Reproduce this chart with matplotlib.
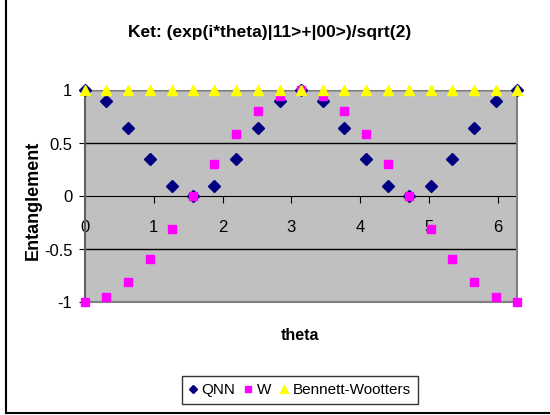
import matplotlib
matplotlib.use('Agg')
import matplotlib.pyplot as plt
from matplotlib.lines import Line2D

plt.rcParams['font.family'] = ['Liberation Sans', 'DejaVu Sans']

# data
theta = [0, 0.31, 0.63, 0.94, 1.26, 1.57, 1.88, 2.2, 2.51, 2.83, 3.14,
         3.46, 3.77, 4.08, 4.4, 4.71, 5.03, 5.34, 5.65, 5.97, 6.28]
qnn = [1, 0.9, 0.65, 0.35, 0.1, 0, 0.1, 0.35, 0.65, 0.9, 1,
       0.9, 0.65, 0.35, 0.1, 0, 0.1, 0.35, 0.65, 0.9, 1]
w = [-1, -0.95, -0.81, -0.59, -0.31, 0, 0.31, 0.59, 0.81, 0.95, 1,
     0.95, 0.81, 0.59, 0.31, 0, -0.31, -0.59, -0.81, -0.95, -1]
bw = [1] * 21
yticks = [-1, -0.5, 0, 0.5, 1]
xticks = [0, 1, 2, 3, 4, 5, 6]

fig = plt.figure(figsize=(5.5, 4.15), dpi=100)
ax = fig.add_axes([85 / 550, 1 - 302.5 / 415, 432 / 550, 212 / 415])
ax.set_facecolor('#C0C0C0')

for y in [-0.5, 0.5, 1]:
    ax.axhline(y, color='black', lw=1, zorder=1)
ax.axhline(-1, color='#808080', lw=1.5, zorder=1, clip_on=False)

ax.plot(theta, qnn, 'D', color='#000080', ms=5.8, ls='none', clip_on=False, zorder=3, label='QNN')
ax.plot(theta, w, 's', color='#FF00FF', ms=5.5, ls='none', clip_on=False, zorder=4, label='W')
ax.plot(theta, bw, '^', color='#FFFF00', ms=7, ls='none', clip_on=False, zorder=5, label='Bennett-Wootters')

ax.set_xlim(0, 6.28)
ax.set_ylim(-1, 1)
ax.set_xticks(xticks)
ax.set_yticks(yticks)
ax.set_yticklabels(['-1', '-0.5', '0', '0.5', '1'])

ax.spines['bottom'].set_position(('data', 0))
ax.spines['bottom'].set_color('black')
ax.spines['bottom'].set_zorder(2)
ax.spines['left'].set_color('#606060')
ax.spines['left'].set_linewidth(1.5)
ax.spines['right'].set_color('#808080')
ax.spines['right'].set_linewidth(1.5)
ax.spines['top'].set_color('#808080')

ax.tick_params(axis='x', direction='out', length=5, pad=12, labelsize=12)
ax.tick_params(axis='y', direction='out', length=4, pad=5, labelsize=12)

fig.text(270 / 550, 1 - 33 / 415, 'Ket: (exp(i*theta)|11>+|00>)/sqrt(2)',
         ha='center', va='center', fontsize=12.5, fontweight='bold')
fig.text(33 / 550, 1 - 200 / 415, 'Entanglement', rotation=90,
         ha='center', va='center', fontsize=13, fontweight='bold')
fig.text(300 / 550, 1 - 335 / 415, 'theta', ha='center', va='center',
         fontsize=11.5, fontweight='bold')

leg = fig.legend(loc='center', bbox_to_anchor=(300 / 550, 1 - 390 / 415), ncol=3,
                 frameon=True, fancybox=False, edgecolor='black', fontsize=11,
                 handlelength=0.5, handletextpad=0.3, columnspacing=0.6,
                 borderpad=0.45, markerscale=0.75)
leg.get_frame().set_linewidth(1)

# outer chart border
fig.add_artist(Line2D([6 / 550, 6 / 550], [1 - 413 / 415, 1], color='black', lw=1.5))
fig.add_artist(Line2D([6 / 550, 1], [1 - 413 / 415, 1 - 413 / 415], color='black', lw=1.5))

fig.savefig('out.png', dpi=100)
